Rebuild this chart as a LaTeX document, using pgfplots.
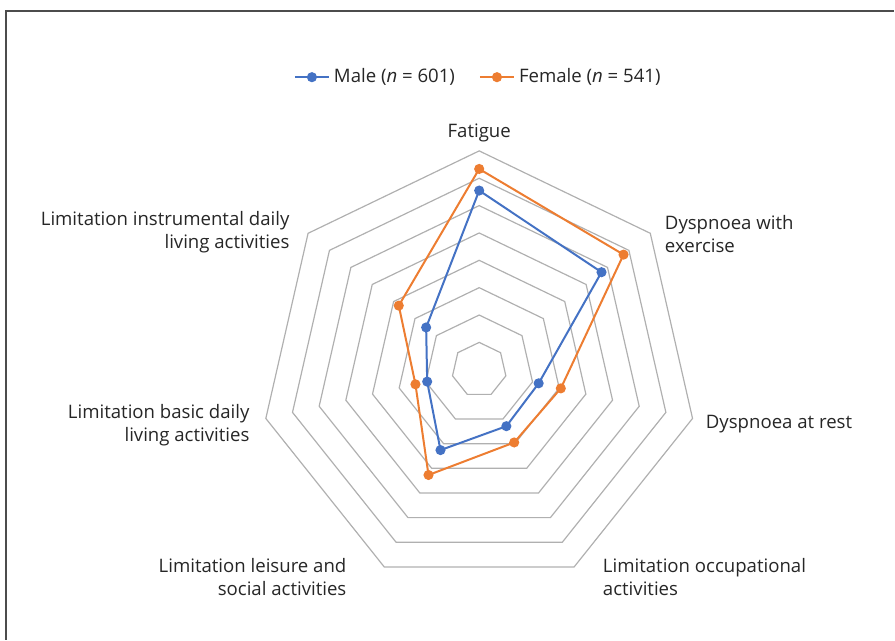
\documentclass[border=0pt]{standalone}
\usepackage{pgfplots}
\pgfplotsset{compat=1.18}
\usepackage{fontspec}
\setmainfont{Open Sans}
\definecolor{mblue}{HTML}{4472C4}
\definecolor{forange}{HTML}{ED7D31}
\definecolor{ringc}{HTML}{B0B0B0}
\definecolor{txt}{HTML}{262626}
\begin{document}
\begin{tikzpicture}
\begin{axis}[
  x=1.36875pt, y=1.36875pt,
  xmin=-175.16, xmax=151.78, ymin=-98.63, ymax=135.16,
  hide axis, clip=false,
  legend columns=2,
  legend style={at={(axis cs:0,106.94)}, anchor=center, draw=none, fill=none,
    font=\fontsize{9.3}{11.5}\selectfont, text=txt,
    /tikz/every even column/.append style={column sep=10pt}},
  legend cell align=left,
]
\path (rel axis cs:0,0) rectangle (rel axis cs:1,1);
\pgfplotsinvokeforeach{10,20,30,40,50,60,70,80}{
  \addplot[ringc, line width=0.6pt, data cs=polar, forget plot, mark=none]
    coordinates {(90,#1) (38.571,#1) (-12.857,#1) (-64.286,#1) (-115.714,#1) (-167.143,#1) (141.429,#1)} -- cycle;
}
\addplot[mblue, line width=1pt, mark=*, mark size=2pt, data cs=polar]
  coordinates {(90,65.5) (38.571,57.2) (-12.857,22.3) (-64.286,22.9) (-115.714,32.6) (-167.143,19.5) (141.429,24.8)} -- cycle;
\addlegendentry{Male (\textit{n} = 601)}
\addplot[forange, line width=1pt, mark=*, mark size=2pt, data cs=polar]
  coordinates {(90,73.4) (38.571,67.5) (-12.857,30.6) (-64.286,29.5) (-115.714,42.7) (-167.143,23.9) (141.429,37.6)} -- cycle;
\addlegendentry{Female (\textit{n} = 541)}
\begin{scope}[every node/.style={text=txt, font=\fontsize{9.3}{11.5}\selectfont, inner sep=0pt}]
\node[anchor=center] at (axis cs:0,86.57) {Fatigue};
\node[anchor=west, align=left] at (axis cs:67.76,49.49) {Dyspnoea with\\exercise};
\node[anchor=west, align=left] at (axis cs:82.74,-19.73) {Dyspnoea at rest};
\node[anchor=west, align=left] at (axis cs:45.11,-75.62) {Limitation occupational\\activities};
\node[anchor=east, align=right] at (axis cs:-48.40,-75.62) {Limitation leisure and\\social activities};
\node[anchor=east, align=right] at (axis cs:-83.84,-20.1) {Limitation basic daily\\living activities};
\node[anchor=east, align=right] at (axis cs:-69.22,50.41) {Limitation instrumental daily\\living activities};
\end{scope}
\draw[black!70, line width=0.6pt] (axis cs:-172.97,-98.63) -- (axis cs:-172.97,131.14) -- (axis cs:151.78,131.14);
\end{axis}
\end{tikzpicture}
\end{document}
